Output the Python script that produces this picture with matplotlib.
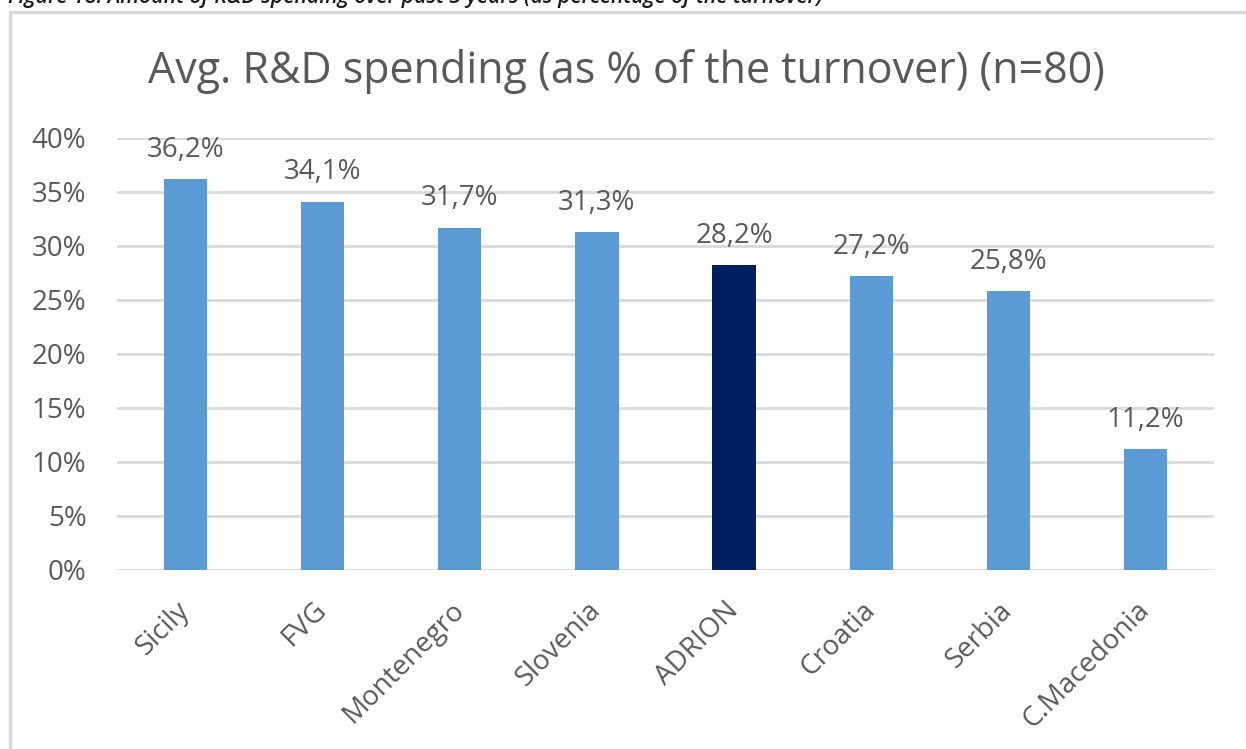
import matplotlib.pyplot as plt
from matplotlib.patches import Rectangle
from matplotlib.ticker import FuncFormatter

plt.rcParams['font.family'] = ['Open Sans', 'DejaVu Sans']

regions = ['Sicily', 'FVG', 'Montenegro', 'Slovenia', 'ADRION', 'Croatia', 'Serbia', 'C.Macedonia']
spending = [36.2, 34.1, 31.7, 31.3, 28.2, 27.2, 25.8, 11.2]
highlight = 'ADRION'

BLUE = '#5B9BD5'
NAVY = '#002060'
GRID = '#D9D9D9'
TEXT = '#595959'

fig = plt.figure(figsize=(12.46, 7.49), dpi=100)
ax = fig.add_axes([117 / 1246, 1 - 570 / 749, (1214 - 117) / 1246, (570 - 138) / 749])

colors = [NAVY if r == highlight else BLUE for r in regions]
x = range(len(regions))
bars = ax.bar(x, spending, width=0.315, color=colors, zorder=3)

for b, v in zip(bars, spending):
    ax.annotate(f'{v:.1f}%'.replace('.', ','), (b.get_x() + b.get_width() / 2, v),
                xytext=(0, 16), textcoords='offset points', ha='center', va='baseline',
                fontsize=20, color=TEXT)

ax.set_xlim(-0.5, len(regions) - 0.5)
ax.set_ylim(0, 40)
ax.set_yticks(range(0, 41, 5))
ax.yaxis.set_major_formatter(FuncFormatter(lambda v, _: f'{v:.0f}%'))
ax.grid(axis='y', color=GRID, linewidth=2, zorder=0)
for s in ax.spines.values():
    s.set_visible(False)
ax.tick_params(axis='both', length=0, labelsize=20, colors=TEXT)
ax.tick_params(axis='y', pad=22)
ax.set_xticks(list(x))
ax.set_xticklabels(regions, rotation=45, ha='right', va='center', rotation_mode='anchor')
ax.tick_params(axis='x', pad=26)

fig.text(626 / 1246, 1 - 72 / 749, 'Avg. R&D spending (as % of the turnover) (n=80)',
         ha='center', va='center', fontsize=31, color=TEXT)

# outer frame of the chart box
fig.patches.append(Rectangle((10 / 1246, -0.05), 1.1, 1 - 12 / 749 + 0.05,
                             transform=fig.transFigure, fill=False,
                             edgecolor=GRID, linewidth=2.5))

# caption above the chart, mostly cut off at the top edge
fig.text(8 / 1246, 1 - 3 / 749,
         'Figure 18: Amount of R&D spending over past 3 years (as percentage of the turnover)',
         ha='left', va='baseline', fontsize=15.3, style='italic', weight='semibold',
         color='#1a1a1a')

fig.savefig('out.png', dpi=100)
